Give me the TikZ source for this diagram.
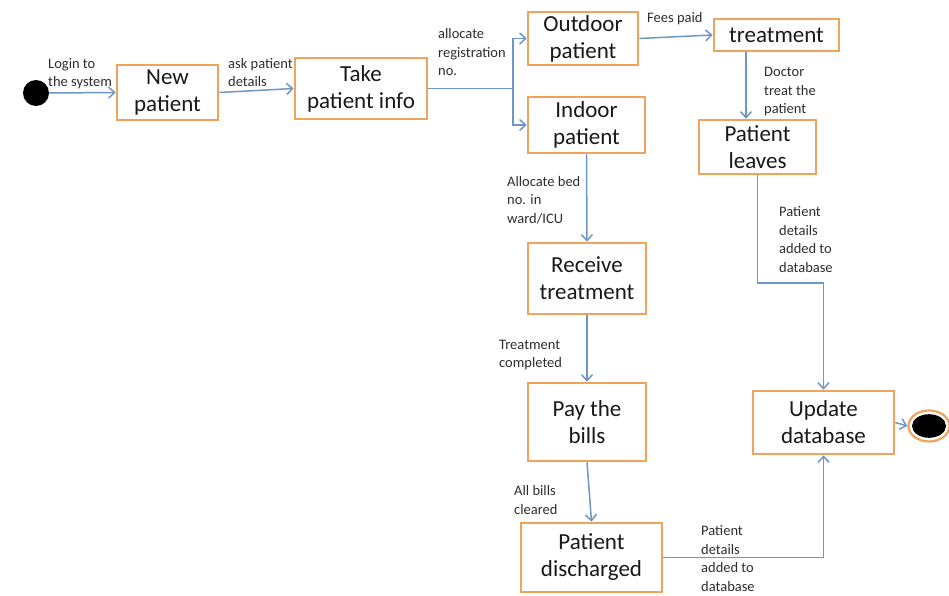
\documentclass[tikz,border=0pt]{standalone}
\usepackage{fontspec}
\setmainfont{Carlito}
\usetikzlibrary{arrows.meta,calc,shapes.geometric}
\definecolor{boxline}{RGB}{240,163,90}
\definecolor{flowline}{RGB}{110,150,200}
\definecolor{labeltext}{RGB}{45,45,45}
\tikzset{
  statebox/.style={draw=boxline, line width=2.6pt, fill=white, align=center,
    font=\fontsize{23}{27}\selectfont, text=black!90, inner sep=0pt},
  flow/.style={draw=flowline, line width=1.5pt, -{Straight Barb[length=6pt,width=11pt]}},
  % labels are placed by the baseline of their last line
  notetext/.style={anchor=base west, align=left, inner sep=0pt,
    font=\fontsize{14.5}{18.5}\selectfont, text=labeltext},
}
\begin{document}
\begin{tikzpicture}[x=1pt,y=-1pt]
\useasboundingbox (0,0) rectangle (949,596);

% states
\node[statebox, minimum width=101pt, minimum height=55pt] (newp) at (167.5,92.5) {New\\patient};
\node[statebox, minimum width=132pt, minimum height=61pt] (take) at (361,88.5) {Take\\patient info};
\node[statebox, minimum width=110pt, minimum height=53pt] (outdoor) at (583,38.5) {Outdoor\\patient};
\node[statebox, minimum width=117pt, minimum height=56pt] (indoor) at (586.5,125) {Indoor\\patient};
\node[statebox, minimum width=125pt, minimum height=32pt] (treat) at (776.5,35) {treatment};
\node[statebox, minimum width=117pt, minimum height=54pt] (leaves) at (757.5,147) {Patient\\leaves};
\node[statebox, minimum width=118pt, minimum height=71pt] (receive) at (587,278.5) {Receive\\treatment};
\node[statebox, minimum width=118pt, minimum height=78pt] (pay) at (587,422) {Pay the\\bills};
\node[statebox, minimum width=141pt, minimum height=69pt] (disch) at (591.5,557.5) {Patient\\discharged};
\node[statebox, minimum width=141pt, minimum height=63pt] (update) at (823.5,422.5) {Update\\database};

% initial and final states
\node[circle, fill=black, minimum size=26pt, inner sep=0pt] (start) at (36,93) {};
\node[ellipse, draw=boxline, line width=2.2pt, fill=white, minimum width=41pt,
  minimum height=31pt, inner sep=0pt] (finish) at (929,426) {};
\fill (finish.center) ellipse [x radius=17pt, y radius=11.8pt];

% transitions
\coordinate (fork) at (513,88.5);
\coordinate (leavesbend) at (757.5,283);
\coordinate (dischbend) at (823.5,557.5);
\draw[flow] (start.east) -- (newp.west);
\draw[flow] (newp.east) -- (take.west);
\draw[flowline, line width=1.5pt] (take.east) -- (fork);
\draw[flow] (fork) |- (outdoor.west);
\draw[flow] (fork) |- (indoor.west);
\draw[flow] (outdoor.east) -- (treat.west);
\draw[flow] ([xshift=-11.5pt]leaves.north |- treat.south) -- ([xshift=-11.5pt]leaves.north);
\draw[flow] (leaves.south) -- (leavesbend) -| (update.north);
\draw[flow] (indoor.south) -- (receive.north);
\draw[flow] (receive.south) -- (pay.north);
\draw[flow] (pay.south) -- (disch.north);
\draw[flow] (disch.east) -- (dischbend) -- (update.south);
\draw[flow] (update.east) -- (finish.west);

% transition labels
\node[notetext] (lLogin) at (48,87) {Login to\\the system};
\node[notetext] (lAsk) at (228,87) {ask patient\\details};
\node[notetext] (lAlloc) at (438,76) {allocate\\registration\\no.};
\node[notetext] (lFees) at (647,23) {Fees paid};
\node[notetext] (lDoctor) at (764,114) {Doctor\\treat the\\patient};
\node[notetext] (lAddA) at (779,272) {Patient\\details\\added to\\database};
\node[notetext] (lBed) at (507,223) {Allocate bed\\no. in\\ward/ICU};
\node[notetext] (lDone) at (499,367.5) {Treatment\\completed};
\node[notetext] (lBills) at (514,514) {All bills\\cleared};
\node[notetext] (lAddB) at (701,591) {Patient\\details\\added to\\database};
\end{tikzpicture}
\end{document}
